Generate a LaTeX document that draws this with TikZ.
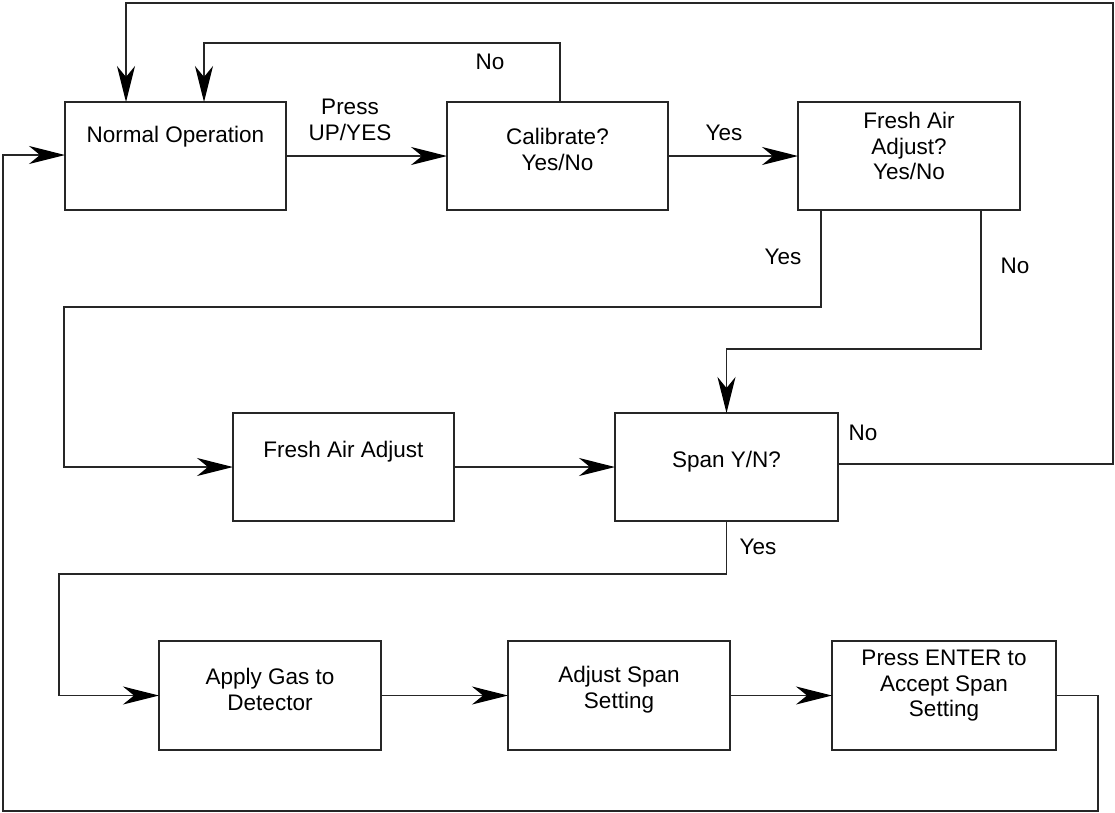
\documentclass[tikz,border=0pt]{standalone}
\usepackage{fontspec}
\setmainfont{Liberation Sans}
\usetikzlibrary{arrows.meta}
\begin{document}
\begin{tikzpicture}[x=1pt,y=-1pt,
  box/.style={draw=black!85, line width=1.3pt, minimum width=221pt, minimum height=108pt, inner sep=0pt, outer sep=0pt},
  txt/.style={align=center, font=\fontsize{22.5}{25.5}\selectfont, inner sep=0pt},
  conn/.style={draw=black!85, line width=1.3pt},
  arr/.style={conn, -{Stealth[length=36pt,width=18pt,inset=11pt,fill=black,color=black]}}]
\useasboundingbox (0,0) rectangle (1115,812);
% boxes
\node[box] (normal) at (175.5,156) {};
\node[box] (calib) at (557.5,156) {};
\node[box, minimum width=222pt] (fresh) at (909,156) {};
\node[box] (faa) at (343.5,467) {};
\node[box, minimum width=223pt] (span) at (726.5,467) {};
\node[box, minimum width=222pt, minimum height=109pt] (apply) at (270,695.5) {};
\node[box, minimum width=222pt, minimum height=109pt] (adjust) at (619,695.5) {};
\node[box, minimum width=224pt, minimum height=109pt] (enter) at (944,695.5) {};
% box texts
\node[txt] (normal-t) at (175.5,137) {Normal Operation};
\node[txt] (calib-t) at (557.5,149.5) {Calibrate?\\Yes/No};
\node[txt] (fresh-t) at (909,146) {Fresh Air\\Adjust?\\Yes/No};
\node[txt] (faa-t) at (343.5,452) {Fresh Air Adjust};
\node[txt] (span-t) at (726.5,462) {Span Y/N?};
\node[txt] (apply-t) at (270,689.5) {Apply Gas to\\Detector};
\node[txt] (adjust-t) at (619,689.5) {Adjust Span\\Setting};
\node[txt] (enter-t) at (944,686) {Press ENTER to\\Accept Span\\Setting};
% connector labels
\node[txt] (l-press) at (350,120) {Press\\UP/YES};
\node[txt] (l-calno) at (490,62) {No};
\node[txt] (l-calyes) at (724,133) {Yes};
\node[txt] (l-fyes) at (783,257) {Yes};
\node[txt] (l-fno) at (1015,266) {No};
\node[txt] (l-sno) at (863,433) {No};
\node[txt] (l-syes) at (758,547) {Yes};
% connectors
\draw[arr] (normal.east) -- (calib.west);
\draw[arr] ([xshift=2.5pt]calib.north) -- ++(0,-59) -| ([xshift=28.5pt]normal.north);
\draw[arr] (calib.east) -- (fresh.west);
\draw[arr] ([xshift=-88pt]fresh.south) -- ++(0,97) -- ++(-757,0) |- (faa.west);
\draw[arr] ([xshift=72pt]fresh.south) -- ++(0,139) -| (span.north);
\draw[arr] (faa.east) -- (span.west);
\draw[arr] ([yshift=3pt]span.east) -- ++(275,0) -- ++(0,-461) -| ([xshift=-49.5pt]normal.north);
\draw[arr] (span.south) -- ++(0,53) -- ++(-667.5,0) |- (apply.west);
\draw[arr] (apply.east) -- (adjust.west);
\draw[arr] (adjust.east) -- (enter.west);
\draw[arr] (enter.east) -- ++(42,0) -- ++(0,115.5) -- ++(-1095,0) |- ([yshift=1pt]normal.west);
\end{tikzpicture}
\end{document}
